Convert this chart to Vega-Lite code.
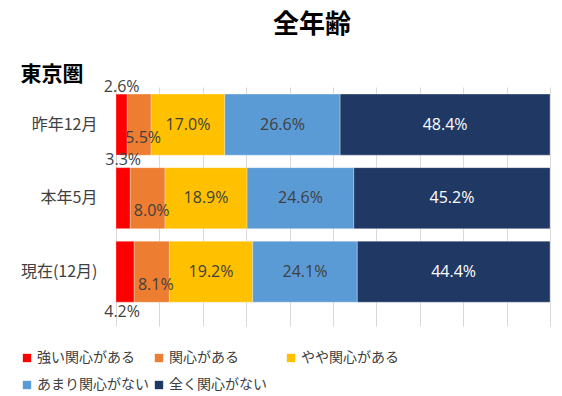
{
  "$schema": "https://vega.github.io/schema/vega-lite/v6.json",
  "width": 434,
  "height": 239,
  "autosize": {"type": "none"},
  "padding": {"left": 116, "top": 87, "right": 12, "bottom": 70},
  "config": {
    "font": "Noto Sans CJK JP",
    "view": {"stroke": null},
    "title": {"font": "Noto Sans CJK JP"}
  },
  "title": {"text": "全年齢", "fontSize": 26, "fontWeight": "bold", "color": "#000000", "anchor": "middle", "dx": -21, "offset": 25},
  "data": {
    "values": [
      {"period": "昨年12月", "cat": "強い関心がある", "v": 2.6},
      {"period": "昨年12月", "cat": "関心がある", "v": 5.5},
      {"period": "昨年12月", "cat": "やや関心がある", "v": 17.0},
      {"period": "昨年12月", "cat": "あまり関心がない", "v": 26.6},
      {"period": "昨年12月", "cat": "全く関心がない", "v": 48.4},
      {"period": "本年5月", "cat": "強い関心がある", "v": 3.3},
      {"period": "本年5月", "cat": "関心がある", "v": 8.0},
      {"period": "本年5月", "cat": "やや関心がある", "v": 18.9},
      {"period": "本年5月", "cat": "あまり関心がない", "v": 24.6},
      {"period": "本年5月", "cat": "全く関心がない", "v": 45.2},
      {"period": "現在(12月)", "cat": "強い関心がある", "v": 4.2},
      {"period": "現在(12月)", "cat": "関心がある", "v": 8.1},
      {"period": "現在(12月)", "cat": "やや関心がある", "v": 19.2},
      {"period": "現在(12月)", "cat": "あまり関心がない", "v": 24.1},
      {"period": "現在(12月)", "cat": "全く関心がない", "v": 44.4}
    ]
  },
  "transform": [
    {"calculate": "indexof(['強い関心がある', '関心がある', 'やや関心がある', 'あまり関心がない', '全く関心がない'], datum.cat)", "as": "o"},
    {"calculate": "format(datum.v, '.1f') + '%'", "as": "label"},
    {"stack": "v", "groupby": ["period"], "sort": [{"field": "o", "order": "ascending"}], "offset": "normalize", "as": ["x0", "x1"]},
    {"calculate": "(datum.x0 + datum.x1) / 2", "as": "xm"}
  ],
  "encoding": {
    "y": {
      "field": "period", "type": "nominal", "sort": null,
      "scale": {"paddingInner": 0.17, "paddingOuter": 0.21, "align": 0.23},
      "axis": {"title": "東京圏", "titleAngle": 0, "titleX": -96, "titleY": -7, "titleAlign": "left", "titleBaseline": "alphabetic", "titleFontSize": 21, "titleFontWeight": "bold", "titleColor": "#000000", "ticks": false, "domain": false, "labelPadding": 19, "labelFontSize": 16, "labelColor": "#404040"}
    }
  },
  "layer": [
    {
      "mark": {"type": "bar", "stroke": "#ffffff", "strokeWidth": 0.5, "strokeOpacity": 0.6},
      "encoding": {
        "x": {
          "field": "x0", "type": "quantitative",
          "scale": {"domain": [0, 1], "nice": false},
          "axis": {"title": null, "labels": false, "ticks": false, "domain": false, "grid": true, "gridColor": "#D9D9D9", "values": [0, 0.1, 0.2, 0.3, 0.4, 0.5, 0.6, 0.7, 0.8, 0.9, 1]}
        },
        "x2": {"field": "x1"},
        "color": {
          "field": "cat", "type": "nominal",
          "sort": ["強い関心がある", "関心がある", "やや関心がある", "あまり関心がない", "全く関心がない"],
          "scale": {"domain": ["強い関心がある", "関心がある", "やや関心がある", "あまり関心がない", "全く関心がない"], "range": ["#FF0000", "#ED7D31", "#FFC000", "#5B9BD5", "#203864"]},
          "legend": {"title": null, "orient": "none", "legendX": -96, "legendY": 264, "direction": "horizontal", "columns": 3, "gridAlign": "all", "columnPadding": 3, "rowPadding": 13, "symbolType": "square", "symbolSize": 70, "symbolStrokeWidth": 0, "symbolOffset": 0, "labelOffset": 3, "labelFontSize": 14, "labelColor": "#404040", "labelLimit": 200}
        }
      }
    },
    {
      "transform": [{"filter": "datum.o == 2 || datum.o == 3"}],
      "mark": {"type": "text", "fontSize": 16, "color": "#404040", "font": "Open Sans"},
      "encoding": {"x": {"field": "xm", "type": "quantitative"}, "text": {"field": "label"}}
    },
    {
      "transform": [{"filter": "datum.o == 4"}],
      "mark": {"type": "text", "fontSize": 16, "color": "#FFFFFF", "font": "Open Sans"},
      "encoding": {"x": {"field": "xm", "type": "quantitative"}, "text": {"field": "label"}}
    },
    {
      "transform": [{"filter": "datum.o == 1"}],
      "mark": {"type": "text", "fontSize": 16, "color": "#404040", "font": "Open Sans", "dx": 4, "dy": 13},
      "encoding": {"x": {"field": "xm", "type": "quantitative"}, "text": {"field": "label"}}
    },
    {
      "transform": [{"filter": "datum.o == 0 && datum.period != '現在(12月)'"}],
      "mark": {"type": "text", "fontSize": 16, "color": "#404040", "font": "Open Sans", "dy": -38},
      "encoding": {"x": {"field": "xm", "type": "quantitative"}, "text": {"field": "label"}}
    },
    {
      "transform": [{"filter": "datum.o == 0 && datum.period == '現在(12月)'"}],
      "mark": {"type": "text", "fontSize": 16, "color": "#404040", "font": "Open Sans", "dy": 40, "dx": -3},
      "encoding": {"x": {"field": "xm", "type": "quantitative"}, "text": {"field": "label"}}
    }
  ]
}
